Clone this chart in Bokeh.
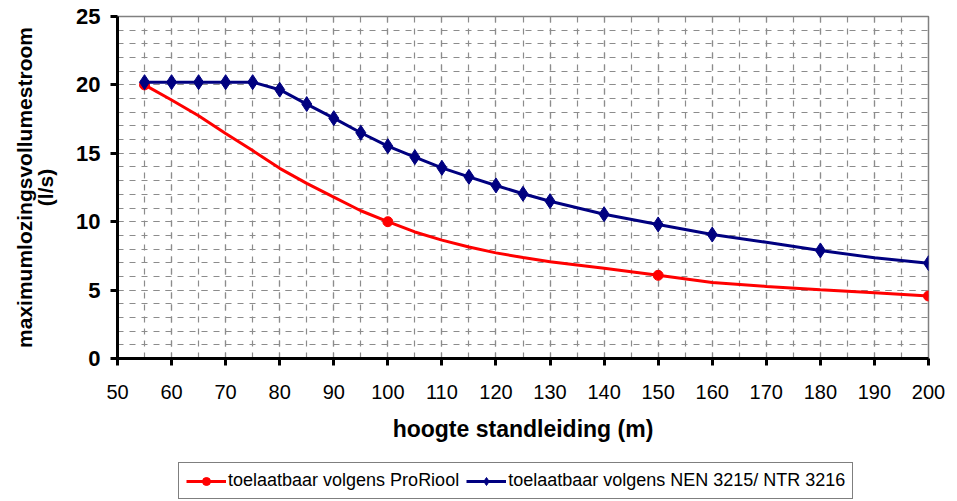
from bokeh.plotting import figure
from bokeh.models import Legend, LegendItem, SingleIntervalTicker
from bokeh.layouts import column
from bokeh.embed import file_html
from bokeh.resources import INLINE

# ProRiool (red)
pro_x = [55, 60, 65, 70, 75, 80, 85, 90, 95, 100, 105, 110, 115, 120, 125, 130, 140, 150, 160, 170, 180, 190, 200]
pro_y = [20.0, 18.9, 17.75, 16.45, 15.2, 13.9, 12.8, 11.8, 10.8, 10.0, 9.25, 8.65, 8.15, 7.72, 7.38, 7.08, 6.6, 6.08, 5.55, 5.27, 5.02, 4.8, 4.57]
pro_marker_x = [55, 100, 150, 200]
pro_marker_y = [20.0, 10.0, 6.08, 4.57]

# NEN 3215 / NTR 3216 (blue)
nen_x = [55, 60, 65, 70, 75, 80, 85, 90, 95, 100, 105, 110, 115, 120, 125, 130, 140, 150, 160, 170, 180, 190, 200]
nen_y = [20.2, 20.2, 20.2, 20.2, 20.2, 19.65, 18.6, 17.57, 16.5, 15.52, 14.72, 13.94, 13.28, 12.65, 12.04, 11.5, 10.55, 9.8, 9.06, 8.5, 7.9, 7.36, 6.97]
nen_marker_x = [55, 60, 65, 70, 75, 80, 85, 90, 95, 100, 105, 110, 115, 120, 125, 130, 140, 150, 160, 180, 200]
nen_marker_y = [20.2, 20.2, 20.2, 20.2, 20.2, 19.65, 18.6, 17.57, 16.5, 15.52, 14.72, 13.94, 13.28, 12.65, 12.04, 11.5, 10.55, 9.8, 9.06, 7.9, 6.97]

x_label = "hoogte standleiding (m)"
y_label = "maximumlozingsvollumestroom\n(l/s)"
legend_labels = ["toelaatbaar volgens ProRiool", "toelaatbaar volgens NEN 3215/ NTR 3216"]

RED = "#ff0000"
BLUE = "#000080"
GRID = "#8c8c8c"
FONT = "Liberation Sans"

p = figure(frame_width=811, frame_height=342, x_range=(50, 200), y_range=(0, 25),
           output_backend="svg", toolbar_location=None,
           min_border_left=117, min_border_right=29, min_border_top=16, min_border_bottom=97)
p.background_fill_color = "white"
p.border_fill_color = "white"
p.outline_line_color = "#808080"
p.outline_line_width = 1.5

p.xaxis.ticker = SingleIntervalTicker(interval=10, num_minor_ticks=2)
p.yaxis.ticker = SingleIntervalTicker(interval=5, num_minor_ticks=5)

for ax in (p.xaxis, p.yaxis):
    ax.axis_line_color = "black"
    ax.axis_line_width = 3
    ax.major_tick_line_color = "black"
    ax.major_tick_line_width = 3
    ax.major_tick_out = 7
    ax.major_tick_in = 0
    ax.minor_tick_line_color = None
    ax.major_label_text_font = FONT
    ax.major_label_text_color = "black"
    ax.axis_label_text_font = FONT
    ax.axis_label_text_font_style = "bold"
    ax.axis_label_text_color = "black"

p.xaxis.major_label_text_font_size = "20px"
p.xaxis.major_label_standoff = 19
p.xaxis.axis_label = x_label
p.xaxis.axis_label_text_font_size = "23px"
p.xaxis.axis_label_standoff = 14

p.yaxis.major_label_text_font_size = "22px"
p.yaxis.major_label_text_font_style = "bold"
p.yaxis.major_label_standoff = 10
p.yaxis.axis_label = y_label
p.yaxis.axis_label_text_font_size = "21px"
p.yaxis.axis_label_text_line_height = 0.9
p.yaxis.axis_label_standoff = 16

for g in (p.xgrid, p.ygrid):
    g.grid_line_color = GRID
    g.grid_line_dash = "6 6"
    g.grid_line_width = 1.2
    g.minor_grid_line_color = GRID
    g.minor_grid_line_dash = "6 6"
    g.minor_grid_line_width = 1.2

p.line(pro_x, pro_y, line_color=RED, line_width=3)
p.scatter(pro_marker_x, pro_marker_y, marker="circle", size=10, fill_color=RED, line_color=RED)
p.line(nen_x, nen_y, line_color=BLUE, line_width=3)
p.scatter(nen_marker_x, nen_marker_y, marker="diamond", size=15, fill_color=BLUE, line_color=BLUE)

# legend strip below the chart (its glyphs reuse the series' first points, kept out of view)
lg = figure(frame_width=957, frame_height=46, x_range=(0, 1), y_range=(0, 1),
            output_backend="svg", toolbar_location=None,
            min_border_left=0, min_border_right=0, min_border_top=0, min_border_bottom=0)
lg.axis.visible = False
lg.grid.visible = False
lg.outline_line_color = None
lg.background_fill_color = "white"
lg.border_fill_color = "white"
lr_line = lg.line(pro_x[:2], pro_y[:2], line_color=RED, line_width=3)
lr_mark = lg.scatter(pro_marker_x[:1], pro_marker_y[:1], marker="circle", size=8, fill_color=RED, line_color=RED)
lb_line = lg.line(nen_x[:2], nen_y[:2], line_color=BLUE, line_width=3)
lb_mark = lg.scatter(nen_marker_x[:1], nen_marker_y[:1], marker="diamond", size=10, fill_color=BLUE, line_color=BLUE)

legend = Legend(items=[LegendItem(label=legend_labels[0], renderers=[lr_line, lr_mark]),
                       LegendItem(label=legend_labels[1], renderers=[lb_line, lb_mark])],
                orientation="horizontal", location=(178, 2),
                border_line_color="black", border_line_width=1,
                label_text_font=FONT, label_text_font_size="18px", label_text_color="black",
                glyph_width=40, glyph_height=20, spacing=7, label_standoff=2,
                padding=7, margin=0, background_fill_color="white")
lg.add_layout(legend, "center")

layout = column(p, lg, spacing=0)
open("out.html", "w").write(file_html(layout, INLINE))
